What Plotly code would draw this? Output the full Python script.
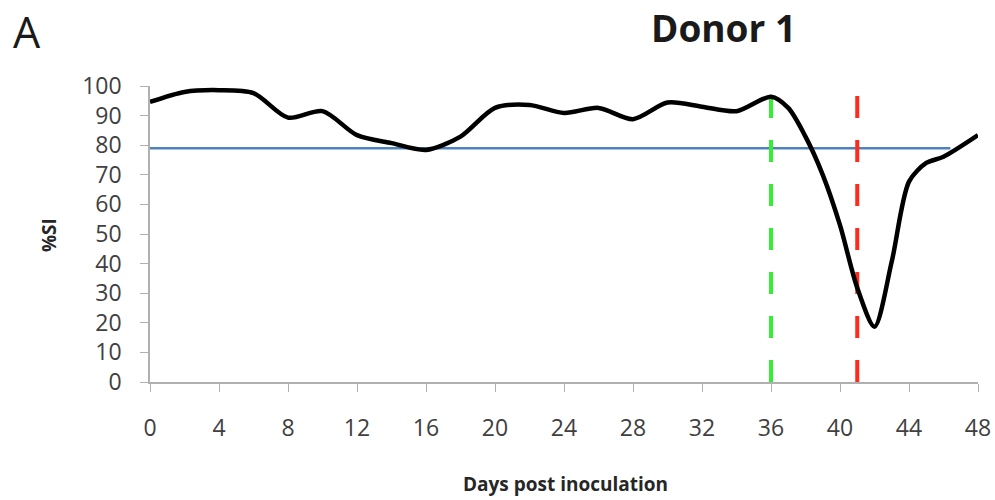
import plotly.graph_objects as go

# %SI time course for donor 1
days = [0, 2, 4, 6, 8, 10, 12, 14, 16, 18, 20, 22, 24, 26, 28, 30, 32, 34,
        36, 37, 38, 39, 40, 41, 42, 43, 44, 45, 46, 48]
si = [94.6, 98.0, 98.6, 97.6, 89.3, 91.5, 83.4, 80.7, 78.4, 82.9, 92.6, 93.6,
      90.9, 92.6, 88.8, 94.4, 93.0, 91.5, 96.4, 92.6, 82.9, 70.0, 53.0, 31.8,
      18.7, 40.7, 67.7, 74.0, 76.1, 83.4]

# threshold line
threshold_days = [0, 46.4]
threshold_value = 79

# event markers (days)
green_day = 36
red_day = 41
marker_span = [0, 98.6]

x_ticks = list(range(0, 49, 4))
y_ticks = list(range(0, 101, 10))

W, H = 995, 500
L, R, T, B = 150, 17, 86, 118

fig = go.Figure()

fig.add_trace(go.Scatter(
    x=threshold_days, y=[threshold_value] * len(threshold_days),
    mode="lines", line=dict(color="#4f81bd", width=2.5),
    hoverinfo="skip", showlegend=False))

fig.add_trace(go.Scatter(
    x=[green_day, green_day], y=marker_span, mode="lines",
    line=dict(color="#33ee33", width=4, dash="22px,22px"),
    showlegend=False, cliponaxis=False))
fig.add_trace(go.Scatter(
    x=[red_day, red_day], y=marker_span, mode="lines",
    line=dict(color="#ff2a1a", width=4, dash="22px,22px"),
    showlegend=False, cliponaxis=False))

fig.add_trace(go.Scatter(
    x=days, y=si, mode="lines",
    line=dict(color="black", width=4.5, shape="spline", smoothing=0.8),
    showlegend=False))

tick_font = dict(family="Open Sans, sans-serif", size=23, color="#404040")
axis_common = dict(
    showgrid=False, zeroline=False, showline=True, linecolor="#b0b0b0",
    linewidth=1.5, ticks="outside", ticklen=8, tickcolor="#b0b0b0",
    tickfont=tick_font, automargin=False,
)


def px(x, y):
    """Pixel position on the page -> paper coordinates."""
    return (x - L) / (W - L - R), 1 + (T - y) / (H - T - B)


texts = [
    ("<b>Donor 1</b>", 723, 28, 37, "#1a1a1a", 0),
    ("A", 27, 31, 43, "#1a1a1a", 0),
    ("<b>Days post inoculation</b>", 565, 484, 19, "#262626", 0),
    ("<b>%SI</b>", 49, 235, 19, "#262626", -90),
]
annotations = []
for text, x, y, size, color, angle in texts:
    ax, ay = px(x, y)
    annotations.append(dict(
        text=text, x=ax, y=ay, xref="paper", yref="paper", showarrow=False,
        xanchor="center", yanchor="middle", textangle=angle,
        font=dict(family="Open Sans, sans-serif", size=size, color=color)))

fig.update_layout(
    width=W, height=H,
    margin=dict(l=L, r=R, t=T, b=B),
    paper_bgcolor="white", plot_bgcolor="white",
    font=dict(family="Open Sans, sans-serif", color="black"),
    xaxis=dict(range=[0, 48], tickvals=x_ticks,
               ticktext=[str(v) for v in x_ticks],
               ticklabelstandoff=17, **axis_common),
    yaxis=dict(range=[0, 100], tickvals=y_ticks,
               ticklabelstandoff=14, **axis_common),
    annotations=annotations,
)

fig.write_html("out.html")
